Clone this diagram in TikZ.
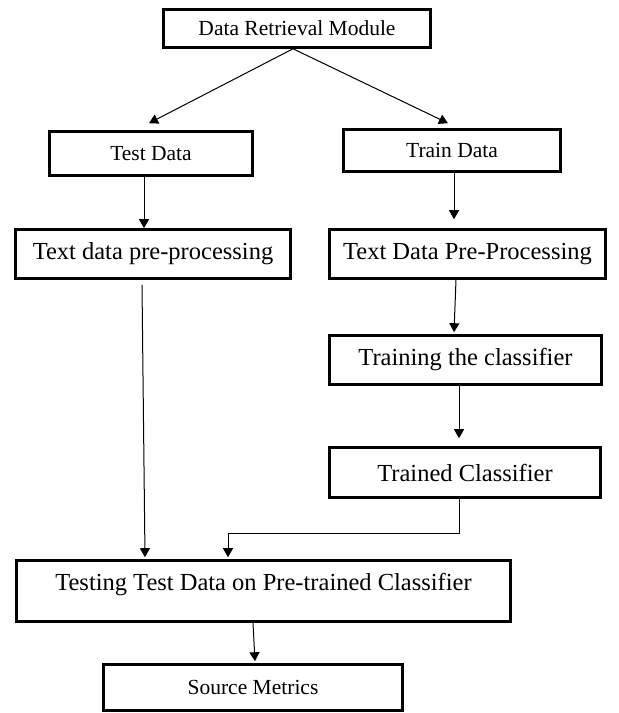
\documentclass[tikz,border=0pt]{standalone}
\usepackage{fontspec}
\setmainfont{Liberation Serif}
\usepackage{tikz}
\usetikzlibrary{positioning, arrows.meta}
\tikzset{B/.style={draw, line width=2.6pt, inner sep=0pt, rectangle, font=\fontsize{21.5}{25}\selectfont},
         BL/.style={B, font=\fontsize{24.5}{28}\selectfont}}

\begin{document}
\begin{tikzpicture}[x=1pt, y=-1pt, >={Triangle[length=9pt, width=10pt]}, line width=1pt]
\useasboundingbox (0,0) rectangle (619,713);
\node (DR) [B, minimum width=267pt, minimum height=38pt] at (297,28.5) {Data Retrieval Module};
\node (TD) [B, minimum width=203pt, minimum height=44pt] at (151,153.5) {Test Data};
\node (TR) [B, minimum width=217pt, minimum height=42pt] at (452,150.5) {Train Data};
\node (P1) [BL, minimum width=275pt, minimum height=49pt] at (153,254) {Text data pre-processing};
\node (P2) [BL, minimum width=276pt, minimum height=49pt] at (467.5,254) {Text Data Pre-Processing};
\node (TC) [BL, minimum width=272pt, minimum height=49pt] at (465.5,360) {Training the classifier};
\node (CL) [BL, minimum width=271pt, minimum height=50pt] at (465,472.5) {Trained Classifier};
\node (TT) [BL, minimum width=494pt, minimum height=61pt, text height=18pt, text depth=20pt] at (263.5,591) {Testing Test Data on Pre-trained Classifier};
\node (SM) [B, minimum width=299pt, minimum height=46pt] at (253,687.5) {Source Metrics};
%
\draw[->] ([xshift=-4pt]DR.south) -- ([xshift=-2pt, yshift=7pt]TD.north);
\draw[->] ([xshift=-4pt]DR.south) -- ([xshift=-4pt, yshift=5pt]TR.north);
\draw[->] ([xshift=-7pt]TD.south) -- ([xshift=-9pt]P1.north);
\draw[->] ([xshift=2pt]TR.south) -- ([xshift=-13.5pt, yshift=9pt]P2.north);
\draw[->] ([xshift=-11.5pt]P2.south) -- ([xshift=-11.5pt, yshift=2pt]TC.north);
\draw[->] ([xshift=-6.5pt]TC.south) -- ([xshift=-6pt, yshift=8pt]CL.north);
\draw[->] ([xshift=-6pt]CL.south) -- ++(0,35) -| ([xshift=-35.5pt, yshift=2pt]TT.north);
\draw[->] ([xshift=-11pt, yshift=-5pt]P1.south) -- ([xshift=-118.5pt, yshift=2pt]TT.north);
\draw[->] ([xshift=-10.5pt]TT.south) -- ([xshift=2pt, yshift=2pt]SM.north);
\end{tikzpicture}
\end{document}
